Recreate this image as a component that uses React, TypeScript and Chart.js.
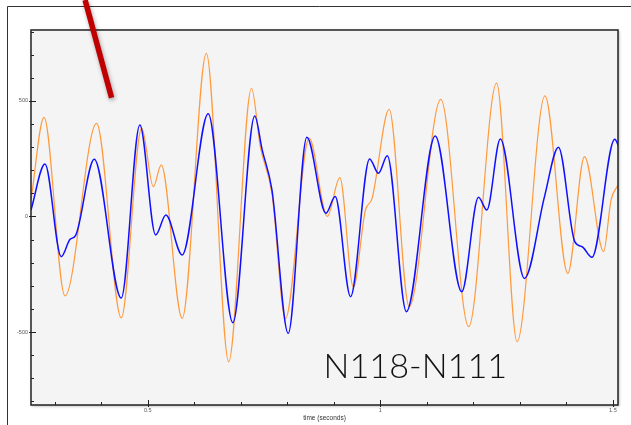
import { useEffect, useRef } from "react";
import { Chart, registerables } from "chart.js";

Chart.register(...registerables);

// time (seconds)
const ORANGE_T = [0.249, 0.277, 0.322, 0.39, 0.443, 0.487, 0.512, 0.529, 0.574, 0.626, 0.674, 0.723, 0.742, 0.767, 0.796, 0.847, 0.886, 0.913, 0.942, 0.968, 0.982, 1.019, 1.062, 1.13, 1.19, 1.25, 1.294, 1.354, 1.403, 1.439, 1.48, 1.496, 1.511];
const ORANGE_V = [71, 429, -344, 403, -439, 382, 129, 223, -441, 706, -629, 555, 302, 100, -441, 339, 0, 168, -306, 28, 76, 464, -390, 507, -477, 577, -542, 522, -246, 259, -152, 71, 136];

const BLUE_T = [0.249, 0.279, 0.314, 0.333, 0.345, 0.385, 0.443, 0.483, 0.517, 0.539, 0.574, 0.63, 0.683, 0.73, 0.746, 0.767, 0.802, 0.842, 0.883, 0.903, 0.936, 0.977, 0.996, 1.015, 1.056, 1.118, 1.175, 1.211, 1.229, 1.258, 1.31, 1.353, 1.383, 1.418, 1.434, 1.455, 1.504, 1.513];
const BLUE_V = [28, 227, -174, -99, -82, 248, -353, 396, -80, 6, -167, 444, -460, 435, 288, 115, -506, 343, 14, 86, -347, 249, 187, 263, -412, 348, -326, 83, 28, 335, -268, 86, 300, -109, -131, -177, 334, 302];

const X_LABELED = [0.5, 1, 1.5];
const Y_LABELED = [-500, 0, 500];
const X_RANGE = [0.249, 1.511];
const Y_RANGE = [-816, 807];
const X_TITLE = "time (seconds)";
const BIG_LABEL = "N118-N111";
// big label placement in data units: left, right, baseline
const BIG_LABEL_POS = { left: 0.878, right: 1.273, base: -699 };
// red pointer stroke in data units
const POINTER = { x0: 0.3653, y0: 937, x1: 0.4222, y1: 514 };

const isLabeled = (v: number, list: number[]) => list.some((l) => Math.abs(l - v) < 1e-6);

const decor = {
  id: "decor",
  beforeDraw(chart: any) {
    const { ctx, chartArea: a, width, height } = chart;
    ctx.save();
    ctx.fillStyle = "#ffffff";
    ctx.fillRect(0, 0, width, height);
    ctx.strokeStyle = "#333333";
    ctx.lineWidth = 1;
    ctx.beginPath();
    ctx.moveTo(7.5, height);
    ctx.lineTo(7.5, 6.5);
    ctx.lineTo(width, 6.5);
    ctx.stroke();
    ctx.shadowColor = "rgba(0,0,0,0.35)";
    ctx.shadowBlur = 3;
    ctx.shadowOffsetX = 1;
    ctx.shadowOffsetY = 1;
    ctx.fillStyle = "#f4f4f4";
    ctx.fillRect(a.left, a.top, a.right - a.left, a.bottom - a.top);
    ctx.restore();
  },
  afterDraw(chart: any) {
    const { ctx, chartArea: a } = chart;
    const xs = chart.scales.x;
    const ys = chart.scales.y;
    ctx.save();
    // plot border
    ctx.strokeStyle = "#222222";
    ctx.lineWidth = 1.5;
    ctx.strokeRect(a.left, a.top, a.right - a.left, a.bottom - a.top);
    // tick marks (inward)
    ctx.lineWidth = 1;
    ctx.strokeStyle = "#222222";
    ctx.beginPath();
    for (const t of ys.ticks) {
      const p = Math.round(ys.getPixelForValue(t.value)) + 0.5;
      const major = isLabeled(t.value, Y_LABELED);
      ctx.moveTo(a.left - (major ? 2 : 0), p);
      ctx.lineTo(a.left + (major ? 5 : 3), p);
    }
    for (const t of xs.ticks) {
      const p = Math.round(xs.getPixelForValue(t.value)) + 0.5;
      const major = isLabeled(t.value, X_LABELED);
      ctx.moveTo(p, a.bottom + (major ? 2 : 0));
      ctx.lineTo(p, a.bottom - (major ? 5 : 3));
    }
    ctx.stroke();

    // big label
    const lx = xs.getPixelForValue(BIG_LABEL_POS.left);
    const rx = xs.getPixelForValue(BIG_LABEL_POS.right);
    const by = ys.getPixelForValue(BIG_LABEL_POS.base);
    ctx.font = '300 40px Lato, "Noto Sans", sans-serif';
    const w = ctx.measureText(BIG_LABEL).width;
    const size = (40 * (rx - lx)) / w;
    ctx.font = `300 ${size}px Lato, "Noto Sans", sans-serif`;
    ctx.fillStyle = "#111111";
    ctx.textBaseline = "alphabetic";
    ctx.textAlign = "left";
    ctx.fillText(BIG_LABEL, lx, by);

    // red pointer
    ctx.shadowColor = "rgba(0,0,0,0.35)";
    ctx.shadowBlur = 4;
    ctx.shadowOffsetX = 1;
    ctx.shadowOffsetY = 2;
    ctx.strokeStyle = "#c00000";
    ctx.lineWidth = 5.5;
    ctx.lineCap = "butt";
    ctx.beginPath();
    ctx.moveTo(xs.getPixelForValue(POINTER.x0), ys.getPixelForValue(POINTER.y0));
    ctx.lineTo(xs.getPixelForValue(POINTER.x1), ys.getPixelForValue(POINTER.y1));
    ctx.stroke();
    ctx.restore();
  },
};

export default function App() {
  const ref = useRef<HTMLCanvasElement | null>(null);
  useEffect(() => {
    if (!ref.current) return;
    const tickFont = { size: 5.5, family: '"Liberation Sans", Arial, sans-serif' };
    const chart = new Chart(ref.current, {
      type: "line",
      data: {
        datasets: [
          {
            label: "N111",
            data: BLUE_T.map((t, i) => ({ x: t, y: BLUE_V[i] })),
            borderColor: "#1010ff",
            borderWidth: 1.5,
            pointRadius: 0,
            cubicInterpolationMode: "monotone",
            fill: false,
          },
          {
            label: "N118",
            data: ORANGE_T.map((t, i) => ({ x: t, y: ORANGE_V[i] })),
            borderColor: "#ff9a3c",
            borderWidth: 1.2,
            pointRadius: 0,
            cubicInterpolationMode: "monotone",
            fill: false,
          },
        ],
      },
      options: {
        responsive: false,
        animation: false,
        devicePixelRatio: 1,
        layout: { padding: { left: 0, top: 30, right: 13, bottom: 0 } },
        plugins: { legend: { display: false }, tooltip: { enabled: false } },
        scales: {
          x: {
            type: "linear",
            min: X_RANGE[0],
            max: X_RANGE[1],
            grid: { display: false, drawTicks: false },
            border: { display: false },
            ticks: {
              stepSize: 0.1,
              includeBounds: false,
              autoSkip: false,
              maxRotation: 0,
              padding: 2,
              color: "#555555",
              font: tickFont,
              callback: (v: any) => (isLabeled(Number(v), X_LABELED) ? String(Math.round(Number(v) * 10) / 10) : ""),
            },
            title: {
              display: true,
              text: X_TITLE,
              color: "#333333",
              font: { size: 6.5, family: '"Liberation Sans", Arial, sans-serif' },
              padding: { top: 0, bottom: 3 },
            },
            afterFit: (s: any) => {
              s.height = 20;
            },
          },
          y: {
            type: "linear",
            min: Y_RANGE[0],
            max: Y_RANGE[1],
            grid: { display: false, drawTicks: false },
            border: { display: false },
            ticks: {
              stepSize: 100,
              includeBounds: false,
              autoSkip: false,
              padding: 3,
              color: "#555555",
              font: tickFont,
              callback: (v: any) => (isLabeled(Number(v), Y_LABELED) ? String(Math.round(Number(v))) : ""),
            },
            afterFit: (s: any) => {
              s.width = 31;
            },
          },
        },
      },
      plugins: [decor],
    } as any);
    return () => chart.destroy();
  }, []);
  return (
    <div style={{ position: "fixed", left: 0, top: 0, width: 631, height: 425, background: "#fff" }}>
      <canvas ref={ref} width={631} height={425} style={{ display: "block" }} />
    </div>
  );
}
